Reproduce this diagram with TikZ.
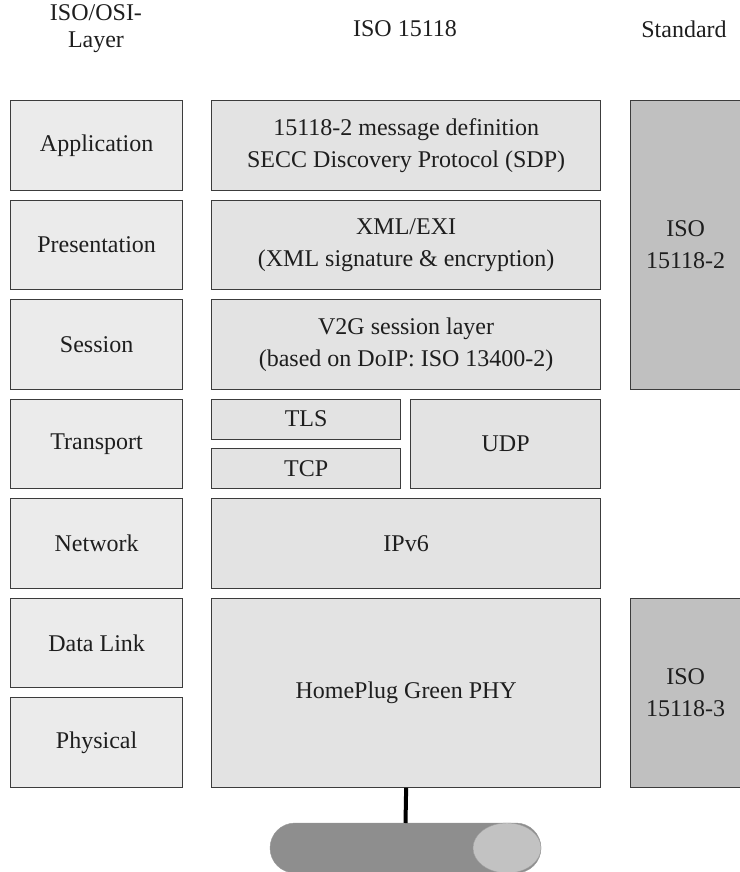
\documentclass[tikz,border=0pt]{standalone}
\usepackage{fontspec}
\setmainfont{Liberation Serif}
\usetikzlibrary{shapes.geometric}
\definecolor{linec}{HTML}{3C3C3C}
\definecolor{leftfill}{HTML}{EBEBEB}
\definecolor{midfill}{HTML}{E3E3E3}
\definecolor{stdfill}{HTML}{C0C0C0}
\definecolor{cabledark}{HTML}{8E8E8E}
\definecolor{cablelight}{HTML}{C2C2C2}
\definecolor{txt}{HTML}{1E1E1E}
\begin{document}
\begin{tikzpicture}[x=1pt,y=-1pt,
  every node/.style={font=\fontsize{24}{32}\selectfont, text=txt},
  layerbox/.style={draw=linec, line width=1.3pt, inner sep=0pt, align=center, anchor=north west},
  osibox/.style={layerbox, fill=leftfill, minimum width=172pt, minimum height=89.5pt},
  isobox/.style={layerbox, fill=midfill},
  stdbox/.style={layerbox, fill=stdfill},
  header/.style={align=center, inner sep=0pt}
]
\useasboundingbox (0,0) rectangle (739,872);

% headers
\node[header, font=\fontsize{24}{27}\selectfont] (h1) at (96,29) {ISO/OSI-\\Layer};
\node[header] (h2) at (405,29) {ISO 15118};
\node[header] (h3) at (684,29) {Standard};

% OSI layers
\node[osibox] (app)  at (10,100)   {Application};
\node[osibox] (pres) at (10,199.5) {Presentation};
\node[osibox] (sess) at (10,299)   {Session};
\node[osibox] (trans) at (10,398.5) {Transport};
\node[osibox] (net)  at (10,498)   {Network};
\node[osibox] (dl)   at (10,597.5) {Data Link};
\node[osibox] (phy)  at (10,697)   {Physical};

% ISO 15118 column
\node[isobox, minimum width=389pt, minimum height=89.5pt] (iapp) at (211,100)
  {15118-2 message definition\\SECC Discovery Protocol (SDP)};
\node[isobox, minimum width=389pt, minimum height=89.5pt] (ipres) at (211,199.5)
  {XML/EXI\\(XML signature \& encryption)};
\node[isobox, minimum width=389pt, minimum height=89.5pt] (isess) at (211,299)
  {V2G session layer\\(based on DoIP: ISO 13400-2)};
\node[isobox, minimum width=189pt, minimum height=40pt] (tls) at (211,398.5) {TLS};
\node[isobox, minimum width=189pt, minimum height=40pt] (tcp) at (211,448) {TCP};
\node[isobox, minimum width=190pt, minimum height=89.5pt] (udp) at (410,398.5) {UDP};
\node[isobox, minimum width=389pt, minimum height=89.5pt] (ipv6) at (211,498) {IPv6};
\node[isobox, minimum width=389pt, minimum height=189pt] (hp) at (211,597.5) {HomePlug Green PHY};

% Standards column
\node[stdbox, minimum width=110pt, minimum height=288.5pt] (s2) at (630,100) {ISO\\15118-2};
\node[stdbox, minimum width=110pt, minimum height=189pt] (s3) at (630,597.5) {ISO\\15118-3};

% cable
\filldraw[fill=cabledark, draw=gray!80, rounded corners=25pt] (270,823) rectangle (541,873);
\node[draw=gray!75, fill=cablelight, ellipse, minimum width=68pt, minimum height=50pt, inner sep=0pt] (plug) at (507,848) {};
\coordinate (cabletop) at (405.5,823);
\draw[line width=4pt, black] (hp.south) -- (cabletop);
\end{tikzpicture}
\end{document}
